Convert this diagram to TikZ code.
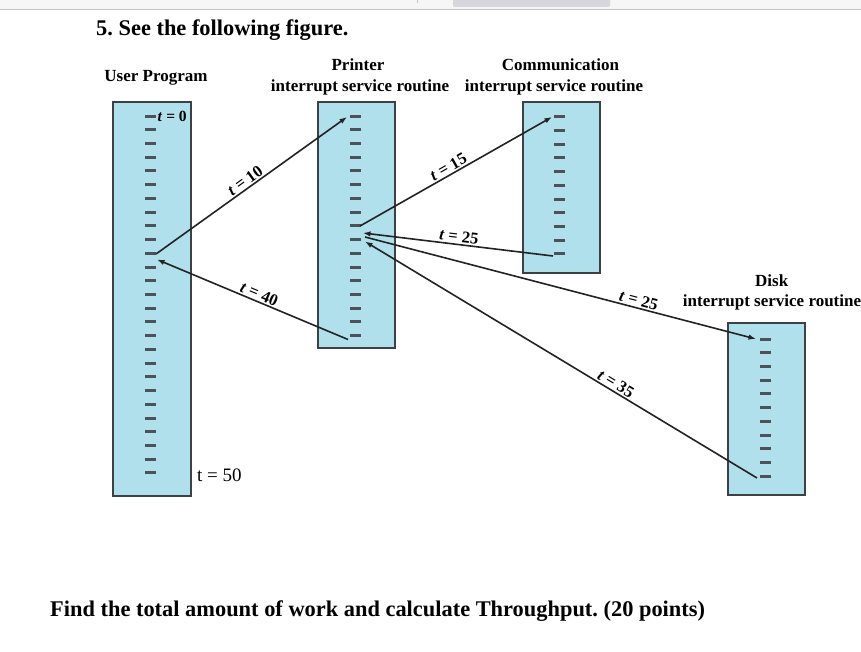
\documentclass[tikz,border=0pt]{standalone}
\usepackage{fontspec}
\setmainfont{Liberation Serif}
\usetikzlibrary{arrows.meta}
\frenchspacing
\definecolor{boxfill}{RGB}{176,224,236}
\definecolor{boxline}{RGB}{60,65,70}
\definecolor{tickc}{RGB}{75,82,90}
\definecolor{arrowc}{RGB}{35,35,35}
\definecolor{barbg}{RGB}{246,246,246}
\definecolor{barline}{RGB}{196,196,196}
\definecolor{tabc}{RGB}{214,214,220}
\begin{document}
\begin{tikzpicture}[x=1pt,y=-1pt,
  isrbox/.style={draw=boxline,line width=1.5pt,fill=boxfill,inner sep=0pt,minimum width=77pt},
  tickmark/.style={draw=tickc,line width=2.8pt},
  flow/.style={draw=arrowc,line width=1.6pt,-{Latex[length=7.5pt,width=5.5pt]}},
  hdr/.style={font=\fontsize{17}{20}\selectfont\bfseries,anchor=base,inner sep=0pt},
  tlab/.style={font=\fontsize{16.5}{16.5}\selectfont\bfseries,sloped,above,inner sep=1.5pt},
  bigtext/.style={font=\fontsize{22.4}{26}\selectfont\bfseries,anchor=base west,inner sep=0pt}
]
\useasboundingbox (0,0) rectangle (861,652);
\fill[white] (0,0) rectangle (861,652);
% browser bar
\fill[barbg] (0,0) rectangle (861,9);
\draw[barline,line width=1.2pt] (0,9.5) -- (861,9.5);
\fill[tabc,rounded corners=2pt] (453,-3) rectangle (610,7);
\draw[barline,line width=0.8pt] (417,0) -- (417,3);

% title and question
\node[bigtext] (title) at (96,36) {5. See the following figure.};
\node[bigtext] (question) at (50,616) {Find the total amount of work and calculate Throughput. (20 points)};

% headers
\node[hdr] (uhdr) at (156,81.7) {User Program};
\node[hdr] (phdr1) at (358,70.7) {Printer};
\node[hdr] (phdr2) at (360,91.7) {interrupt service routine};
\node[hdr] (chdr1) at (560.5,70.7) {Communication};
\node[hdr] (chdr2) at (554,91.7) {interrupt service routine};
\node[hdr] (dhdr1) at (771.7,286.7) {Disk};
\node[hdr] (dhdr2) at (772,306.5) {interrupt service routine};

% boxes
\node[isrbox,minimum width=78pt,minimum height=394pt] (user) at (152,299) {};
\node[isrbox,minimum height=246pt] (printer) at (356.5,225) {};
\node[isrbox,minimum height=171pt] (comm) at (561.5,187.5) {};
\node[isrbox,minimum height=172pt] (disk) at (766.5,409) {};

% ticks (snapped to the pixel grid)
\foreach \k in {0,...,26} \draw[tickmark] (145,{int(116+13.73*\k)+0.5}) -- (156,{int(116+13.73*\k)+0.5});
\foreach \k in {0,...,16} \draw[tickmark] (350,{int(116+13.73*\k)+0.5}) -- (361,{int(116+13.73*\k)+0.5});
\foreach \k in {0,...,10} \draw[tickmark] (554,{int(116.7+13.73*\k)+0.5}) -- (565,{int(116.7+13.73*\k)+0.5});
\foreach \k in {0,...,10} \draw[tickmark] (760,{int(339+13.73*\k)+0.5}) -- (771,{int(339+13.73*\k)+0.5});

% time labels
\node[font=\fontsize{15.5}{15.5}\selectfont\bfseries,anchor=base west,inner sep=0pt] (t0) at (157.5,121.5) {\textit{t} = 0};
\node[font=\fontsize{19}{19}\selectfont,anchor=base west,inner sep=0pt] (t50) at (197,481.5) {t = 50};

% connector end points
\coordinate (u10) at (156,254);
\coordinate (uin) at (157,259.5);
\coordinate (pin0) at (347,117);
\coordinate (p16) at (348,339.5);
\coordinate (p8) at (360,226);
\coordinate (pinC) at (363,233);
\coordinate (poutD) at (365,237);
\coordinate (pinD) at (365,241.5);
\coordinate (cin0) at (552,117);
\coordinate (c10) at (553,256);
\coordinate (din0) at (756,339);
\coordinate (d10) at (757,478);

% connectors
\draw[flow] (u10) -- node[tlab,pos=0.49] {\textit{t} = 10} (pin0);
\draw[flow] (p16) -- node[tlab,pos=0.48] {\textit{t} = 40} (uin);
\draw[flow] (p8) -- node[tlab,pos=0.48] {\textit{t} = 15} (cin0);
\draw[flow] (c10) -- node[tlab,pos=0.5] {\textit{t} = 25} (pinC);
\draw[flow] (poutD) -- node[tlab,pos=0.695] {\textit{t} = 25} (din0);
\draw[flow] (d10) -- node[tlab,pos=0.37] {\textit{t} = 35} (pinD);
\end{tikzpicture}
\end{document}
